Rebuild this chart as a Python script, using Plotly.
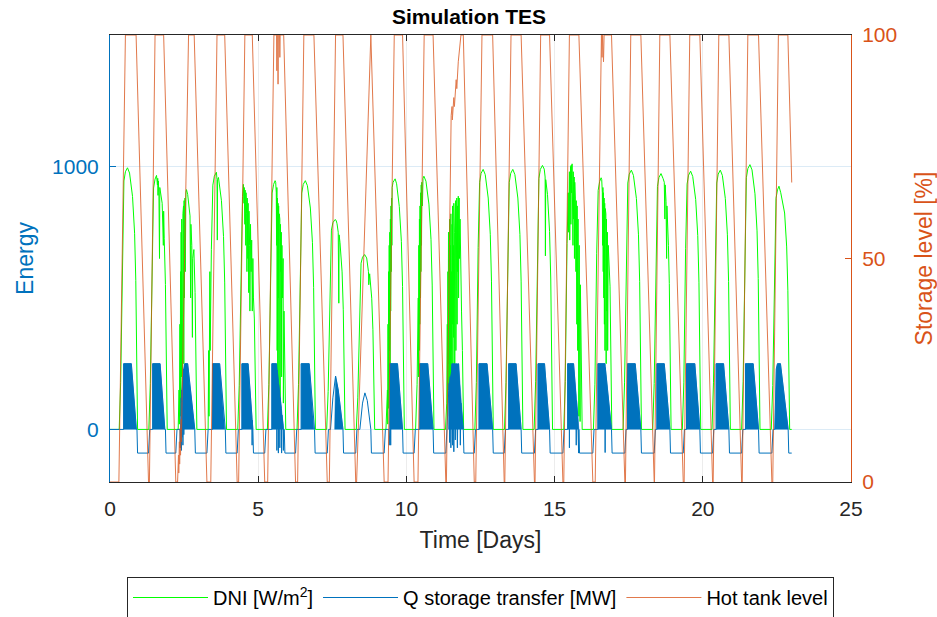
import plotly.graph_objects as go

# ---------------- data ----------------
# DNI [W/m2] (left axis) : time in days, value
dni_t = [
    0.00, 0.31, 0.36, 0.42, 0.47, 0.52, 0.59, 0.66, 0.76, 0.83, 0.87, 0.93,
    1.31, 1.36, 1.42, 1.47, 1.52, 1.57, 1.60, 1.61, 1.62, 1.63, 1.65, 1.67, 1.68, 1.76, 1.80, 1.81, 1.83, 1.87, 1.93,
    2.30, 2.33, 2.34, 2.36, 2.37, 2.38, 2.39, 2.40, 2.41, 2.42, 2.43, 2.44, 2.45, 2.46, 2.47, 2.48, 2.49, 2.50, 2.51, 2.53,
    2.54, 2.56, 2.58, 2.62, 2.66, 2.70, 2.72, 2.73, 2.76, 2.78, 2.79, 2.83, 2.87, 2.93,
    3.31, 3.33, 3.34, 3.35, 3.36, 3.37, 3.38, 3.40, 3.42, 3.47, 3.52, 3.59, 3.61, 3.62, 3.63, 3.66, 3.76, 3.83, 3.87, 3.93,
    4.31, 4.36, 4.42, 4.47, 4.50, 4.52, 4.53, 4.55, 4.56, 4.58, 4.59, 4.61, 4.62, 4.63, 4.65, 4.66, 4.68, 4.69, 4.71, 4.72,
    4.74, 4.76, 4.78, 4.80, 4.82, 4.84, 4.87, 4.93,
    5.31, 5.36, 5.42, 5.47, 5.52, 5.57, 5.59, 5.61, 5.62, 5.63, 5.64, 5.65, 5.66, 5.67, 5.68, 5.69, 5.70, 5.71, 5.72, 5.73,
    5.74, 5.75, 5.76, 5.78, 5.79, 5.80, 5.82, 5.84, 5.85, 5.87, 5.93,
    6.31, 6.36, 6.42, 6.47, 6.52, 6.59, 6.66, 6.76, 6.83, 6.87, 6.93,
    7.31, 7.36, 7.42, 7.47, 7.52, 7.59, 7.63, 7.66, 7.70, 7.72, 7.73, 7.76, 7.83, 7.87, 7.93,
    8.31, 8.36, 8.42, 8.47, 8.52, 8.59, 8.66, 8.72, 8.73, 8.76, 8.83, 8.87, 8.93,
    9.31, 9.36, 9.37, 9.38, 9.39, 9.40, 9.41, 9.42, 9.43, 9.44, 9.45, 9.46, 9.47, 9.48, 9.49, 9.50, 9.51, 9.52, 9.55, 9.62,
    9.67, 9.76, 9.83, 9.87, 9.93,
    10.31, 10.36, 10.40, 10.41, 10.42, 10.43, 10.44, 10.45, 10.46, 10.47, 10.48, 10.49, 10.50, 10.51, 10.52, 10.54, 10.56,
    10.59, 10.66, 10.76, 10.83, 10.87, 10.93,
    11.32, 11.36, 11.38, 11.39, 11.40, 11.41, 11.42, 11.43, 11.44, 11.45, 11.46, 11.47, 11.48, 11.49, 11.50, 11.51, 11.52,
    11.53, 11.54, 11.55, 11.56, 11.57, 11.58, 11.59, 11.60, 11.61, 11.62, 11.63, 11.64, 11.65, 11.66, 11.67, 11.68, 11.69,
    11.70, 11.71, 11.72, 11.73, 11.75, 11.76, 11.78, 11.79, 11.81, 11.83, 11.86, 11.89, 11.93,
    12.31, 12.36, 12.42, 12.47, 12.52, 12.59, 12.66, 12.76, 12.83, 12.87, 12.93,
    13.31, 13.36, 13.42, 13.47, 13.52, 13.59, 13.66, 13.76, 13.83, 13.87, 13.93,
    14.31, 14.36, 14.42, 14.47, 14.52, 14.59, 14.65, 14.68, 14.69, 14.70, 14.76, 14.83, 14.87, 14.93,
    15.31, 15.36, 15.42, 15.46, 15.47, 15.48, 15.49, 15.50, 15.51, 15.52, 15.53, 15.54, 15.55, 15.56, 15.57, 15.59, 15.60,
    15.61, 15.62, 15.63, 15.64, 15.66, 15.67, 15.68, 15.70, 15.72, 15.73, 15.75, 15.76, 15.78, 15.79, 15.80, 15.81, 15.82,
    15.83, 15.84, 15.85, 15.86, 15.87, 15.93,
    16.31, 16.36, 16.42, 16.47, 16.52, 16.57, 16.59, 16.61, 16.62, 16.63, 16.64, 16.65, 16.66, 16.67, 16.68, 16.69, 16.70,
    16.71, 16.72, 16.73, 16.74, 16.75, 16.76, 16.78, 16.79, 16.81, 16.84, 16.87, 16.93,
    17.31, 17.36, 17.42, 17.47, 17.52, 17.59, 17.66, 17.76, 17.83, 17.87, 17.93,
    18.31, 18.36, 18.42, 18.47, 18.52, 18.59, 18.66, 18.70, 18.72, 18.73, 18.76, 18.78, 18.79, 18.82, 18.84, 18.87, 18.93,
    19.31, 19.36, 19.42, 19.47, 19.52, 19.59, 19.66, 19.76, 19.83, 19.87, 19.93,
    20.31, 20.36, 20.42, 20.47, 20.52, 20.59, 20.66, 20.76, 20.83, 20.87, 20.93,
    21.31, 21.36, 21.42, 21.47, 21.52, 21.59, 21.66, 21.76, 21.83, 21.87, 21.93,
    22.31, 22.36, 22.42, 22.47, 22.52, 22.57, 22.63, 22.76, 22.83, 22.87, 22.93, 23.00,
]
dni_v = [
    0, 0, 179, 697, 945, 980, 995, 975, 886, 746, 567, 0,
    0, 174, 676, 918, 952, 966, 930, 955, 890, 945, 900, 650, 920, 860, 700, 830, 725, 551, 0,
    0, 150, 20, 400, 50, 600, 100, 750, 200, 800, 300, 700, 150, 820, 400, 850, 250, 870, 500, 880,
    600, 900, 912, 894, 860, 812, 500, 780, 700, 350, 650, 684, 520, 0,
    0, 300, 50, 500, 150, 600, 300, 650, 685, 929, 963, 978, 950, 720, 950, 958, 870, 734, 557, 0,
    0, 168, 652, 885, 932, 860, 920, 780, 910, 700, 900, 820, 600, 880, 650, 860, 520, 830, 700, 450,
    780, 600, 720, 450, 650, 500, 420, 0,
    0, 170, 662, 899, 932, 946, 940, 900, 700, 920, 300, 880, 150, 860, 500, 850, 100, 820, 400, 800,
    50, 780, 600, 750, 200, 700, 500, 650, 100, 450, 0,
    0, 170, 662, 899, 932, 946, 927, 842, 710, 539, 0,
    0, 144, 559, 758, 786, 798, 795, 782, 750, 480, 740, 710, 599, 455, 0,
    0, 120, 466, 632, 655, 665, 652, 600, 550, 592, 499, 379, 0,
    0, 150, 20, 400, 80, 600, 200, 700, 300, 750, 150, 800, 450, 850, 600, 880, 700, 920, 940, 953,
    934, 848, 715, 543, 0,
    0, 170, 500, 200, 700, 300, 800, 400, 850, 500, 900, 600, 930, 700, 940, 850, 955,
    963, 944, 857, 722, 549, 0,
    0, 100, 400, 50, 600, 150, 750, 250, 650, 100, 800, 350, 700, 150, 820, 300, 600,
    100, 780, 400, 850, 200, 700, 350, 860, 500, 750, 200, 820, 450, 870, 300, 780, 550,
    880, 400, 850, 600, 887, 500, 880, 650, 800, 600, 450, 300, 0,
    0, 178, 692, 940, 974, 989, 969, 880, 742, 564, 0,
    0, 178, 692, 940, 974, 989, 969, 880, 742, 564, 0,
    0, 181, 703, 954, 989, 1004, 990, 960, 660, 950, 894, 753, 572, 0,
    0, 182, 707, 900, 750, 950, 800, 980, 720, 990, 850, 1000, 780, 1005, 900, 1010, 850,
    1000, 700, 980, 800, 960, 650, 940, 880, 600, 870, 400, 850, 300, 800, 100, 760, 50,
    700, 150, 620, 30, 550, 0,
    0, 172, 670, 909, 943, 957, 950, 900, 700, 920, 600, 900, 500, 880, 400, 860, 300,
    840, 550, 820, 250, 800, 450, 750, 300, 700, 620, 545, 0,
    0, 177, 690, 937, 971, 986, 966, 878, 740, 562, 0,
    0, 175, 681, 924, 958, 973, 954, 940, 800, 930, 866, 650, 850, 780, 700, 555, 0,
    0, 177, 687, 933, 967, 982, 962, 874, 737, 560, 0,
    0, 177, 690, 937, 971, 986, 966, 878, 740, 562, 0,
    0, 181, 705, 957, 992, 1007, 987, 896, 755, 574, 0,
    0, 167, 648, 879, 911, 925, 900, 823, 694, 527, 0, 0,
]

# Q storage transfer [MW] (left axis) : outline of the signal
q_t = [
    0.00, 0.46, 0.46, 0.72, 0.89, 0.91, 0.93, 1.30, 1.34,
    1.44, 1.44, 1.69, 1.85, 1.87, 1.89, 2.22, 2.26,
    2.36, 2.37, 2.38, 2.39, 2.40, 2.41, 2.42, 2.43, 2.45, 2.46, 2.48, 2.49, 2.52, 2.62, 2.86, 2.88, 3.27, 3.31,
    3.46, 3.46, 3.70, 3.87, 3.89, 3.91, 4.29, 4.33,
    4.45, 4.45, 4.66, 4.79, 4.795, 4.80, 4.82, 4.84, 5.22, 5.26,
    5.46, 5.46, 5.62, 5.63, 5.64, 5.67, 5.68, 5.69, 5.72, 5.73, 5.74, 5.78, 5.79, 5.80, 5.84, 5.85, 5.86, 5.88, 5.90,
    6.26, 6.30,
    6.45, 6.45, 6.72, 6.88, 6.90, 6.92, 7.33, 7.37,
    7.44, 7.52, 7.61, 7.70, 7.86, 7.88, 8.29, 8.33,
    8.43, 8.52, 8.60, 8.68, 8.78, 8.80, 8.82, 9.25, 9.29,
    9.41, 9.42, 9.43, 9.44, 9.44, 9.46, 9.47, 9.48, 9.70, 9.87, 9.89, 10.26, 10.30,
    10.45, 10.45, 10.72, 10.90, 10.92, 11.33, 11.37,
    11.42, 11.44, 11.46, 11.48, 11.50, 11.52, 11.54, 11.56, 11.58, 11.60, 11.62, 11.65, 11.68, 11.72, 11.76, 11.80,
    11.82, 11.84, 11.92, 11.94, 12.29, 12.33,
    12.45, 12.45, 12.72, 12.91, 12.93, 13.30, 13.34,
    13.45, 13.45, 13.70, 13.87, 13.89, 14.32, 14.36,
    14.44, 14.44, 14.66, 14.83, 14.85, 15.28, 15.32,
    15.44, 15.44, 15.49, 15.50, 15.51, 15.64, 15.72, 15.73, 15.74, 15.78, 15.79, 15.80, 15.81, 15.82, 15.84, 16.29, 16.33,
    16.46, 16.46, 16.70, 16.705, 16.71, 16.92, 16.94, 17.37, 17.41,
    17.46, 17.46, 17.72, 17.91, 17.93, 18.36, 18.40,
    18.45, 18.45, 18.70, 18.89, 18.91, 19.34, 19.38,
    19.45, 19.45, 19.73, 19.90, 19.92, 20.33, 20.37,
    20.45, 20.45, 20.70, 20.88, 20.90, 21.31, 21.35,
    21.44, 21.44, 21.70, 21.88, 21.90, 22.33, 22.37,
    22.43, 22.48, 22.52, 22.62, 22.88, 22.90, 23.00,
]
q_v = [
    0, 0, 250, 250, 0, 0, -90, -90, 0,
    0, 250, 250, 0, 0, -90, -90, 0,
    0, -70, 60, -40, 120, -80, 150, -30, 200, -60, 230, -20, 250, 250, 0, -90, -90, 0,
    0, 250, 250, 0, 0, -90, -90, 0,
    0, 250, 250, 45, -60, 35, 0, -90, -90, 0,
    0, 250, 250, -80, 225, 190, -90, 170, 140, -70, 120, 80, -90, 55, 15, -80, 0, 0, -90,
    -90, 0,
    0, 250, 250, 0, 0, -90, -90, 0,
    0, 120, 203, 150, 0, -90, -90, 0,
    0, 100, 139, 110, 0, 0, -90, -90, 0,
    0, -60, 0, 0, 250, 250, -60, 250, 250, 0, -90, -90, 0,
    0, 250, 250, 0, -90, -90, 0,
    150, 175, -50, 200, -70, 220, 250, -60, 250, -85, 250, -40, 250, -70, 250, 150,
    -60, 100, 0, -90, -90, 0,
    0, 250, 250, 0, -90, -90, 0,
    0, 250, 250, 0, -90, -90, 0,
    0, 250, 250, 0, -90, -90, 0,
    0, 250, 250, -70, 250, 250, 130, -60, 110, 50, -80, 25, -90, 0, -90, -90, 0,
    0, 250, 250, -88, 235, 0, -90, -90, 0,
    0, 250, 250, 0, -90, -90, 0,
    0, 250, 250, 0, -90, -90, 0,
    0, 250, 250, 0, -90, -90, 0,
    0, 250, 250, 0, -90, -90, 0,
    0, 250, 250, 0, -90, -90, 0,
    0, 230, 250, 250, 0, -90, -90,
]

# densely switching charge periods of Q (envelopes of the solid blue blocks)
qblock_t = [
    0.46, 0.46, 0.72, 0.89, None,
    1.44, 1.44, 1.69, 1.85, None,
    2.40, 2.42, 2.48, 2.52, 2.62, 2.86, None,
    3.46, 3.46, 3.70, 3.87, None,
    4.45, 4.45, 4.66, 4.82, None,
    5.46, 5.46, 5.62, 5.86, None,
    6.45, 6.45, 6.72, 6.88, None,
    7.58, 7.61, 7.70, 7.86, None,
    9.44, 9.44, 9.70, 9.87, None,
    10.45, 10.45, 10.72, 10.90, None,
    11.42, 11.42, 11.44, 11.48, 11.52, 11.54, 11.76, 11.92, None,
    12.45, 12.45, 12.72, 12.91, None,
    13.45, 13.45, 13.70, 13.87, None,
    14.44, 14.44, 14.66, 14.83, None,
    15.44, 15.44, 15.64, 15.82, None,
    16.46, 16.46, 16.70, 16.92, None,
    17.46, 17.46, 17.72, 17.91, None,
    18.45, 18.45, 18.70, 18.89, None,
    19.45, 19.45, 19.73, 19.90, None,
    20.45, 20.45, 20.70, 20.88, None,
    21.44, 21.44, 21.70, 21.88, None,
    22.43, 22.48, 22.52, 22.62, 22.88,
]
qblock_v = [
    0, 250, 250, 0, None,
    0, 250, 250, 0, None,
    0, 150, 230, 250, 250, 0, None,
    0, 250, 250, 0, None,
    0, 250, 250, 0, None,
    0, 250, 250, 0, None,
    0, 250, 250, 0, None,
    0, 203, 150, 0, None,
    0, 250, 250, 0, None,
    0, 250, 250, 0, None,
    0, 150, 175, 200, 220, 250, 250, 0, None,
    0, 250, 250, 0, None,
    0, 250, 250, 0, None,
    0, 250, 250, 0, None,
    0, 250, 250, 0, None,
    0, 250, 250, 0, None,
    0, 250, 250, 0, None,
    0, 250, 250, 0, None,
    0, 250, 250, 0, None,
    0, 250, 250, 0, None,
    0, 250, 250, 0, None,
    0, 230, 250, 250, 0,
]

# Hot tank level [%] (right axis)
tank_t = [
    0.00, 0.30, 0.52, 0.88, 1.30,
    1.33, 1.52, 1.81, 2.22,
    2.28, 2.31, 2.32, 2.34, 2.35, 2.37, 2.38, 2.40, 2.41, 2.43, 2.65, 2.84, 3.27,
    3.40, 3.61, 3.87, 4.29,
    4.34, 4.55, 4.80, 5.22,
    5.32, 5.53, 5.62, 5.63, 5.64, 5.66, 5.67, 5.68, 5.72, 5.73, 5.74, 5.86, 6.26,
    6.33, 6.54, 6.88, 7.33,
    7.40, 7.61, 7.86, 8.29,
    8.32, 8.80, 9.25,
    9.38, 9.59, 9.87, 10.26,
    10.39, 10.60, 10.90, 11.33,
    11.35, 11.51, 11.54, 11.55, 11.60, 11.62, 11.68, 11.70, 11.75, 11.84, 11.92, 12.29,
    12.34, 12.55, 12.91, 13.30,
    13.32, 13.53, 13.87, 14.32,
    14.34, 14.53, 14.83, 15.28,
    15.31, 15.50, 15.82, 16.29,
    16.37, 16.58, 16.60, 16.62, 16.65, 16.67, 16.92, 17.37,
    17.39, 17.57, 17.91, 18.36,
    18.37, 18.55, 18.89, 19.34,
    19.37, 19.56, 19.90, 20.33,
    20.35, 20.54, 20.88, 21.31,
    21.33, 21.52, 21.88, 22.33,
    22.36, 22.55, 22.87, 23.00,
]
tank_v = [
    0, 0, 100, 100, 0,
    0, 100, 100, 0,
    0, 6, 2, 9, 4, 12, 6, 14, 9, 18, 100, 100, 0,
    0, 100, 100, 0,
    0, 100, 100, 0,
    0, 100, 100, 92, 100, 100, 89, 100, 100, 95, 100, 100, 0,
    0, 100, 100, 0,
    0, 100, 100, 0,
    0, 100, 0,
    0, 100, 100, 0,
    0, 100, 100, 0,
    0, 82, 84, 81, 86, 84, 90, 88, 94, 100, 100, 0,
    0, 100, 100, 0,
    0, 100, 100, 0,
    0, 100, 100, 0,
    0, 100, 100, 0,
    0, 100, 95, 100, 94, 100, 100, 0,
    0, 100, 100, 0,
    0, 100, 100, 0,
    0, 100, 100, 0,
    0, 100, 100, 0,
    0, 100, 100, 0,
    0, 100, 100, 67,
]

x_ticks = [0, 5, 10, 15, 20, 25]
left_ticks = [0, 1000]
right_ticks = [0, 50, 100]

assert len(dni_t) == len(dni_v), (len(dni_t), len(dni_v))
assert len(q_t) == len(q_v), (len(q_t), len(q_v))
assert len(qblock_t) == len(qblock_v), (len(qblock_t), len(qblock_v))
assert len(tank_t) == len(tank_v), (len(tank_t), len(tank_v))

# ---------------- figure ----------------
GREEN = "#00ff00"
BLUE = "#0072BD"
ORANGE = "#D95319"
DARK = "#262626"
FONT = "Liberation Sans, Arial, sans-serif"

fig = go.Figure()
fig.add_trace(go.Scatter(x=dni_t, y=dni_v, mode="lines", name="DNI [W/m<sup>2</sup>]",
                         line=dict(color=GREEN, width=1)))
fig.add_trace(go.Scatter(x=qblock_t, y=qblock_v, mode="lines", fill="toself", fillcolor=BLUE,
                         line=dict(color=BLUE, width=0.5), showlegend=False, hoverinfo="skip"))
fig.add_trace(go.Scatter(x=q_t, y=q_v, mode="lines", name="Q storage transfer [MW]",
                         line=dict(color=BLUE, width=1)))
fig.add_trace(go.Scatter(x=tank_t, y=tank_v, mode="lines", name="Hot tank level", yaxis="y2",
                         line=dict(color=ORANGE, width=1), opacity=0.78))

fig.update_layout(
    width=937, height=617,
    margin=dict(l=110, r=86, t=35, b=135, autoexpand=False),
    paper_bgcolor="white", plot_bgcolor="white",
    font=dict(family=FONT, color=DARK, size=20),
    title=dict(text="<b>Simulation TES</b>", x=469 / 937, xref="container", xanchor="center",
               y=1 - 17 / 617, yref="container", yanchor="middle",
               font=dict(size=21, color="black", family=FONT)),
    xaxis=dict(range=[0, 25], tickvals=x_ticks, ticks="inside", ticklen=6, tickcolor=DARK,
               showline=True, linecolor=DARK, linewidth=1, mirror="ticks",
               showgrid=True, gridcolor="#ececec", zeroline=False,
               tickfont=dict(size=21, color=DARK), ticklabelstandoff=8,
               title=dict(text="Time [Days]", font=dict(size=23, color=DARK), standoff=12)),
    yaxis=dict(range=[-200, 1500], tickvals=left_ticks, ticks="inside", ticklen=6, tickcolor=BLUE,
               showline=True, linecolor=BLUE, linewidth=1,
               showgrid=True, gridcolor="#dcebf6", zeroline=False,
               tickfont=dict(size=21, color=BLUE), ticklabelstandoff=6,
               title=dict(text="Energy", font=dict(size=23, color=BLUE), standoff=12)),
    yaxis2=dict(range=[0, 100], tickvals=right_ticks, ticks="inside", ticklen=6, tickcolor=ORANGE,
                overlaying="y", side="right", showline=True, linecolor=ORANGE, linewidth=1,
                showgrid=False, zeroline=False,
                tickfont=dict(size=21, color=ORANGE), ticklabelstandoff=6,
                title=dict(text="Storage level [%]", font=dict(size=23, color=ORANGE), standoff=21)),
    legend=dict(orientation="h", x=0.5, xanchor="center", xref="paper",
                y=(482 - 577) / 447, yanchor="top",
                bordercolor=DARK, borderwidth=1, bgcolor="white",
                font=dict(size=20, color="black", family=FONT),
                itemwidth=75, tracegroupgap=0),
    showlegend=True,
)

fig.write_html("out.html")
